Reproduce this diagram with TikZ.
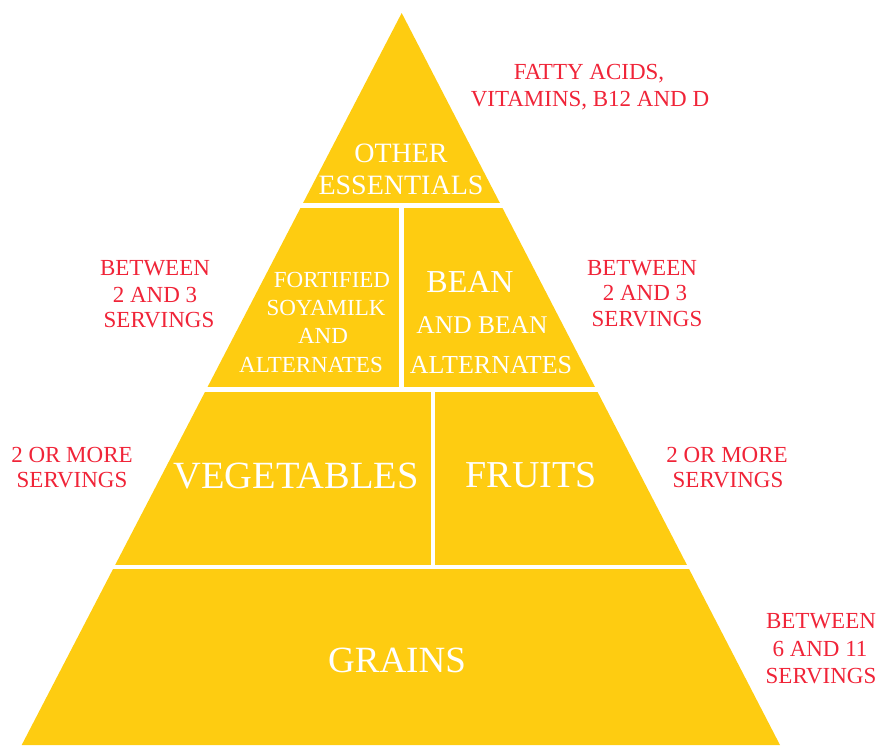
\documentclass[tikz,border=0pt]{standalone}
\usepackage{fontspec}
\setmainfont{Liberation Serif}
\definecolor{pyr}{RGB}{254,204,17}
\definecolor{lbl}{RGB}{240,36,56}
\begin{document}
\begin{tikzpicture}[x=1pt,y=-1pt,
  redtxt/.style={text=lbl,font=\fontsize{23}{27}\selectfont,inner sep=0pt,anchor=base},
  whtxt/.style={text=white,inner sep=0pt,anchor=base},
  gap/.style={white,line width=4.5pt}]
\useasboundingbox (0,0) rectangle (880,745);
% pyramid
\fill[pyr] (401.7,13) coordinate (apex) -- (780,745) coordinate (br) -- (21.7,745) coordinate (bl) -- cycle;
% white separators
\draw[gap] (250,205.5) coordinate (g1a) -- (560,205.5) coordinate (g1b);
\draw[gap] (150,389.5) coordinate (g2a) -- (660,389.5) coordinate (g2b);
\draw[gap] (60,567) coordinate (g3a) -- (760,567) coordinate (g3b);
\draw[gap] (401.7,205.5) coordinate (v1a) -- (401.7,389.5) coordinate (v1b);
\draw[gap] (433,389.5) coordinate (v2a) -- (433,567) coordinate (v2b);
% white labels
\node[whtxt,font=\fontsize{28}{32}\selectfont] (oth1) at (401,162) {OTHER};
\node[whtxt,font=\fontsize{28}{32}\selectfont] (oth2) at (401,194) {ESSENTIALS};
\node[whtxt,font=\fontsize{23}{27}\selectfont] (soy1) at (332,287) {FORTIFIED};
\node[whtxt,font=\fontsize{23}{27}\selectfont] (soy2) at (326,315) {SOYAMILK};
\node[whtxt,font=\fontsize{23}{27}\selectfont] (soy3) at (323,343) {AND};
\node[whtxt,font=\fontsize{23}{27}\selectfont] (soy4) at (311,372) {ALTERNATES};
\node[whtxt,font=\fontsize{32}{36}\selectfont] (bean1) at (470,292) {BEAN};
\node[whtxt,font=\fontsize{25.5}{30}\selectfont] (bean2) at (482,333) {AND BEAN};
\node[whtxt,font=\fontsize{26}{30}\selectfont] (bean3) at (491,373) {ALTERNATES};
\node[whtxt,font=\fontsize{38.5}{44}\selectfont] (veg) at (296,488) {VEGETABLES};
\node[whtxt,font=\fontsize{38}{44}\selectfont] (fru) at (531,487) {FRUITS};
\node[whtxt,font=\fontsize{37}{42}\selectfont] (gra) at (397,672) {GRAINS};
% red labels
\node[redtxt] (fa1) at (589,79) {FATTY ACIDS,};
\node[redtxt] (fa2) at (590,106) {VITAMINS, B12 AND D};
\node[redtxt] (lb1) at (155,275) {BETWEEN};
\node[redtxt] (lb2) at (155,302) {2 AND 3};
\node[redtxt] (lb3) at (159,327) {SERVINGS};
\node[redtxt] (rb1) at (642,275) {BETWEEN};
\node[redtxt] (rb2) at (645,300) {2 AND 3};
\node[redtxt] (rb3) at (647,326) {SERVINGS};
\node[redtxt] (lm1) at (72,462) {2 OR MORE};
\node[redtxt] (lm2) at (72,487) {SERVINGS};
\node[redtxt] (rm1) at (727,462) {2 OR MORE};
\node[redtxt] (rm2) at (728,487) {SERVINGS};
\node[redtxt] (gb1) at (821,628) {BETWEEN};
\node[redtxt] (gb2) at (820,656) {6 AND 11};
\node[redtxt] (gb3) at (821,683) {SERVINGS};
\end{tikzpicture}
\end{document}
